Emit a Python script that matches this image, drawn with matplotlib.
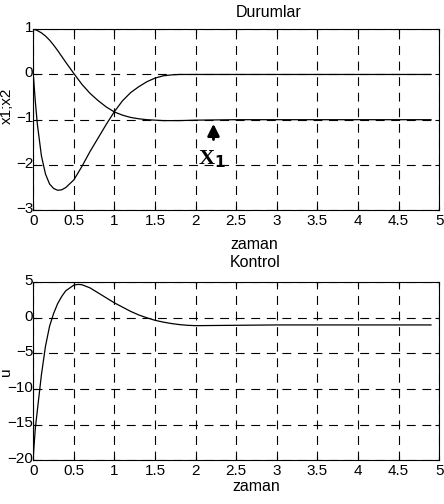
import numpy as np
from matplotlib import pyplot as plt
from matplotlib.transforms import ScaledTranslation

plt.rcParams['font.family'] = ['Liberation Sans', 'DejaVu Sans']

# states
t_x = [0, 0.025, 0.05, 0.1, 0.15, 0.2, 0.25, 0.3, 0.35, 0.4, 0.5, 0.6, 0.7,
       0.8, 0.9, 1.0, 1.1, 1.2, 1.3, 1.4, 1.5, 1.6, 1.7, 1.8, 2.0, 2.5,
       3.0, 3.5, 4.0, 4.5, 4.9]
x1 = [1.0, 0.99, 0.97, 0.92, 0.85, 0.76, 0.65, 0.53, 0.4, 0.27, 0.02,
      -0.22, -0.42, -0.58, -0.72, -0.83, -0.9, -0.95, -0.98, -1.0, -1.01,
      -1.02, -1.02, -1.02, -1.01, -1.0, -1.0, -1.0, -1.0, -1.0, -1.0]
x2 = [0.0, -0.6, -1.1, -1.8, -2.2, -2.42, -2.52, -2.56, -2.55, -2.5,
      -2.33, -2.03, -1.7, -1.4, -1.1, -0.82, -0.58, -0.4, -0.27, -0.16,
      -0.08, -0.03, -0.01, 0.0, 0.0, 0.0, 0.0, 0.0, 0.0, 0.0, 0.0]

# control
t_u = [0, 0.025, 0.05, 0.1, 0.15, 0.2, 0.25, 0.3, 0.35, 0.4, 0.5, 0.55,
       0.6, 0.7, 0.8, 0.9, 1.0, 1.1, 1.2, 1.3, 1.4, 1.5, 1.6, 1.7, 1.8,
       1.9, 2.0, 2.5, 3.0, 3.5, 4.0, 4.5, 4.9]
u = [-19.5, -15.5, -13.0, -8.0, -4.0, -1.2, 0.6, 2.0, 3.0, 3.8, 4.6, 4.7,
     4.65, 4.2, 3.5, 2.8, 2.1, 1.5, 0.9, 0.4, 0.0, -0.35, -0.6, -0.8,
     -0.95, -1.05, -1.1, -1.05, -1.0, -1.0, -1.0, -1.0, -1.0]

xticks = np.arange(0, 5.01, 0.5)
xticklabels = ['0', '0.5', '1', '1.5', '2', '2.5', '3', '3.5', '4', '4.5', '5']


def style(ax, yticks):
    ax.set_xlim(0, 5)
    ax.set_ylim(yticks[0], yticks[-1])
    ax.set_xticks(xticks)
    ax.set_xticklabels(xticklabels)
    ax.set_yticks(yticks)
    ax.tick_params(direction='in', length=3, width=0.8, labelsize=11,
                   top=True, right=True)
    ax.tick_params(axis='x', pad=3)
    ax.tick_params(axis='y', pad=0)
    # y tick labels sit a little above their ticks, as in the scan
    shift = ScaledTranslation(0, 2 / 72, fig.dpi_scale_trans)
    for lab in ax.get_yticklabels():
        lab.set_transform(lab.get_transform() + shift)
    ax.grid(True, color='black', linewidth=0.8, linestyle=(0, (8, 6)))
    for s in ax.spines.values():
        s.set_linewidth(0.8)


fig = plt.figure(figsize=(4.44, 5.04), dpi=100)

ax1 = fig.add_axes([0.075, 0.583, 0.914, 0.359])
ax1.plot(t_x, x1, color='black', lw=0.9)
ax1.plot(t_x, x2, color='black', lw=0.9)
style(ax1, [-3, -2, -1, 0, 1])
ax1.text(0.579, 1.094, 'Durumlar', transform=ax1.transAxes, fontsize=11.5,
         ha='center', va='center')
ax1.text(0.544, -0.188, 'zaman', transform=ax1.transAxes, fontsize=11.5,
         ha='center', va='center')
ax1.set_ylabel('x1;x2', fontsize=11)
ax1.yaxis.set_label_coords(-0.047, 0.575)
ax1.annotate('', xy=(2.22, -1.03), xytext=(2.22, -1.5),
             arrowprops=dict(arrowstyle='-|>,head_width=0.35,head_length=0.7',
                             color='black', lw=2))
ax1.text(2.2, -1.88, r'X$_\mathbf{1}$', family='Liberation Serif',
         fontweight='bold', fontsize=16, ha='center', va='center')

ax2 = fig.add_axes([0.075, 0.087, 0.914, 0.353])
ax2.plot(t_u, u, color='black', lw=0.9)
style(ax2, [-20, -15, -10, -5, 0, 5])
ax2.text(0.547, 1.112, 'Kontrol', transform=ax2.transAxes, fontsize=11.5,
         ha='center', va='center')
ax2.text(0.549, -0.147, 'zaman', transform=ax2.transAxes, fontsize=11.5,
         ha='center', va='center')
ax2.set_ylabel('u', fontsize=11)
ax2.yaxis.set_label_coords(-0.05, 0.5)

plt.savefig('out.png', dpi=100)
